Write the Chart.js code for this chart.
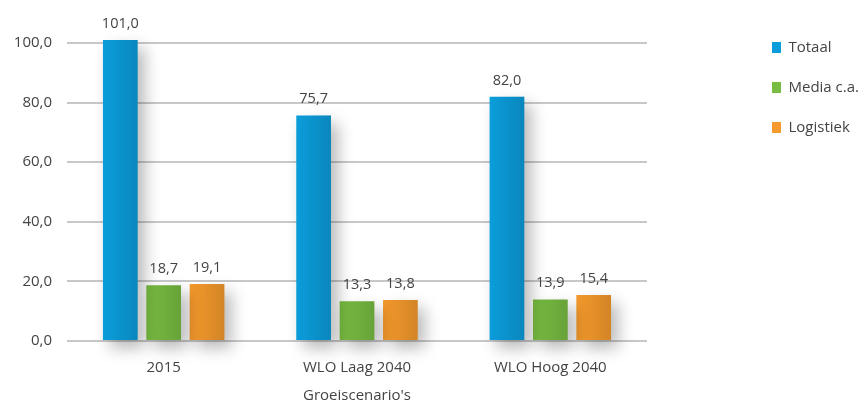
<!DOCTYPE html>
<html>
<head>
<meta charset="utf-8">
<script src="https://cdn.jsdelivr.net/npm/chart.js@4"></script>
<style>
  html, body { margin: 0; padding: 0; background: #fff; }
  #wrap { width: 861px; height: 406px; }
</style>
</head>
<body>
<div id="wrap"><canvas id="chart"></canvas></div>
<script>
const categories = ['2015', 'WLO Laag 2040', 'WLO Hoog 2040'];
const totaal = [101.0, 75.7, 82.0];
const media = [18.7, 13.3, 13.9];
const logistiek = [19.1, 13.8, 15.4];
const yTicks = [0, 20, 40, 60, 80, 100];

const fmt = v => v.toFixed(1).replace('.', ',');

// soft drop shadow under the bars, then a darker right edge and the value labels
const barDecor = {
  id: 'barDecor',
  beforeDatasetsDraw(chart) {
    const ctx = chart.ctx;
    ctx.save();
    ctx.shadowColor = 'rgba(0,0,0,0.28)';
    ctx.shadowBlur = 16;
    ctx.shadowOffsetX = 7;
    ctx.shadowOffsetY = 8;
  },
  afterDatasetsDraw(chart) {
    const ctx = chart.ctx;
    ctx.restore();
    ctx.save();
    chart.data.datasets.forEach((ds, i) => {
      const meta = chart.getDatasetMeta(i);
      meta.data.forEach((bar, j) => {
        const left = bar.x - bar.width / 2;
        const g = ctx.createLinearGradient(left, 0, left + bar.width, 0);
        g.addColorStop(0, 'rgba(0,0,0,0)');
        g.addColorStop(1, 'rgba(0,0,0,0.14)');
        ctx.fillStyle = g;
        ctx.fillRect(left, bar.y, bar.width, bar.base - bar.y);

        ctx.fillStyle = '#444';
        ctx.font = '14.5px "Open Sans"';
        ctx.textAlign = 'center';
        ctx.textBaseline = 'bottom';
        ctx.fillText(fmt(ds.data[j]), bar.x, bar.y - 9);
      });
    });
    ctx.restore();
  }
};

Chart.defaults.font.family = '"Open Sans"';
Chart.defaults.font.size = 15;
Chart.defaults.color = '#444';

new Chart(document.getElementById('chart'), {
  type: 'bar',
  data: {
    labels: categories,
    datasets: [
      { label: 'Totaal', data: totaal, backgroundColor: '#0b9ddb' },
      { label: 'Media c.a.', data: media, backgroundColor: '#78bd42' },
      { label: 'Logistiek', data: logistiek, backgroundColor: '#f59a2c' }
    ]
  },
  plugins: [barDecor],
  options: {
    responsive: true,
    maintainAspectRatio: false,
    animation: false,
    layout: { padding: { top: 15, left: 0, right: -8, bottom: 1 } },
    datasets: {
      bar: {
        clip: false,
        borderWidth: 0,
        categoryPercentage: 0.673,
        barPercentage: 0.8
      }
    },
    scales: {
      x: {
        grid: { display: false },
        border: { display: false },
        ticks: { padding: 10, minRotation: 0, maxRotation: 0, autoSkip: false },
        title: {
          display: true,
          text: "Groeiscenario's",
          padding: { top: 0, bottom: 0 }
        }
      },
      xTop: {
        type: 'category',
        labels: categories,
        position: 'top',
        grid: { display: false },
        border: { display: false },
        ticks: { display: false },
        afterFit: s => { s.height = 28; }
      },
      y: {
        min: 0,
        max: 100,
        afterBuildTicks: s => { s.ticks = yTicks.map(v => ({ value: v })); },
        ticks: { padding: 15, callback: v => fmt(v) },
        grid: { color: '#c8c8c8', lineWidth: 2, drawTicks: false },
        border: { display: false },
        afterFit: s => { s.width = 67; }
      },
      yRight: {
        position: 'right',
        grid: { display: false },
        border: { display: false },
        ticks: { display: false },
        afterFit: s => { s.width = 100; }
      }
    },
    plugins: {
      legend: {
        position: 'right',
        align: 'start',
        labels: {
          boxWidth: 9,
          boxHeight: 11,
          padding: 25,
          color: '#444',
          font: { size: 15 }
        }
      },
      tooltip: { enabled: false }
    }
  }
});
</script>
</body>
</html>
